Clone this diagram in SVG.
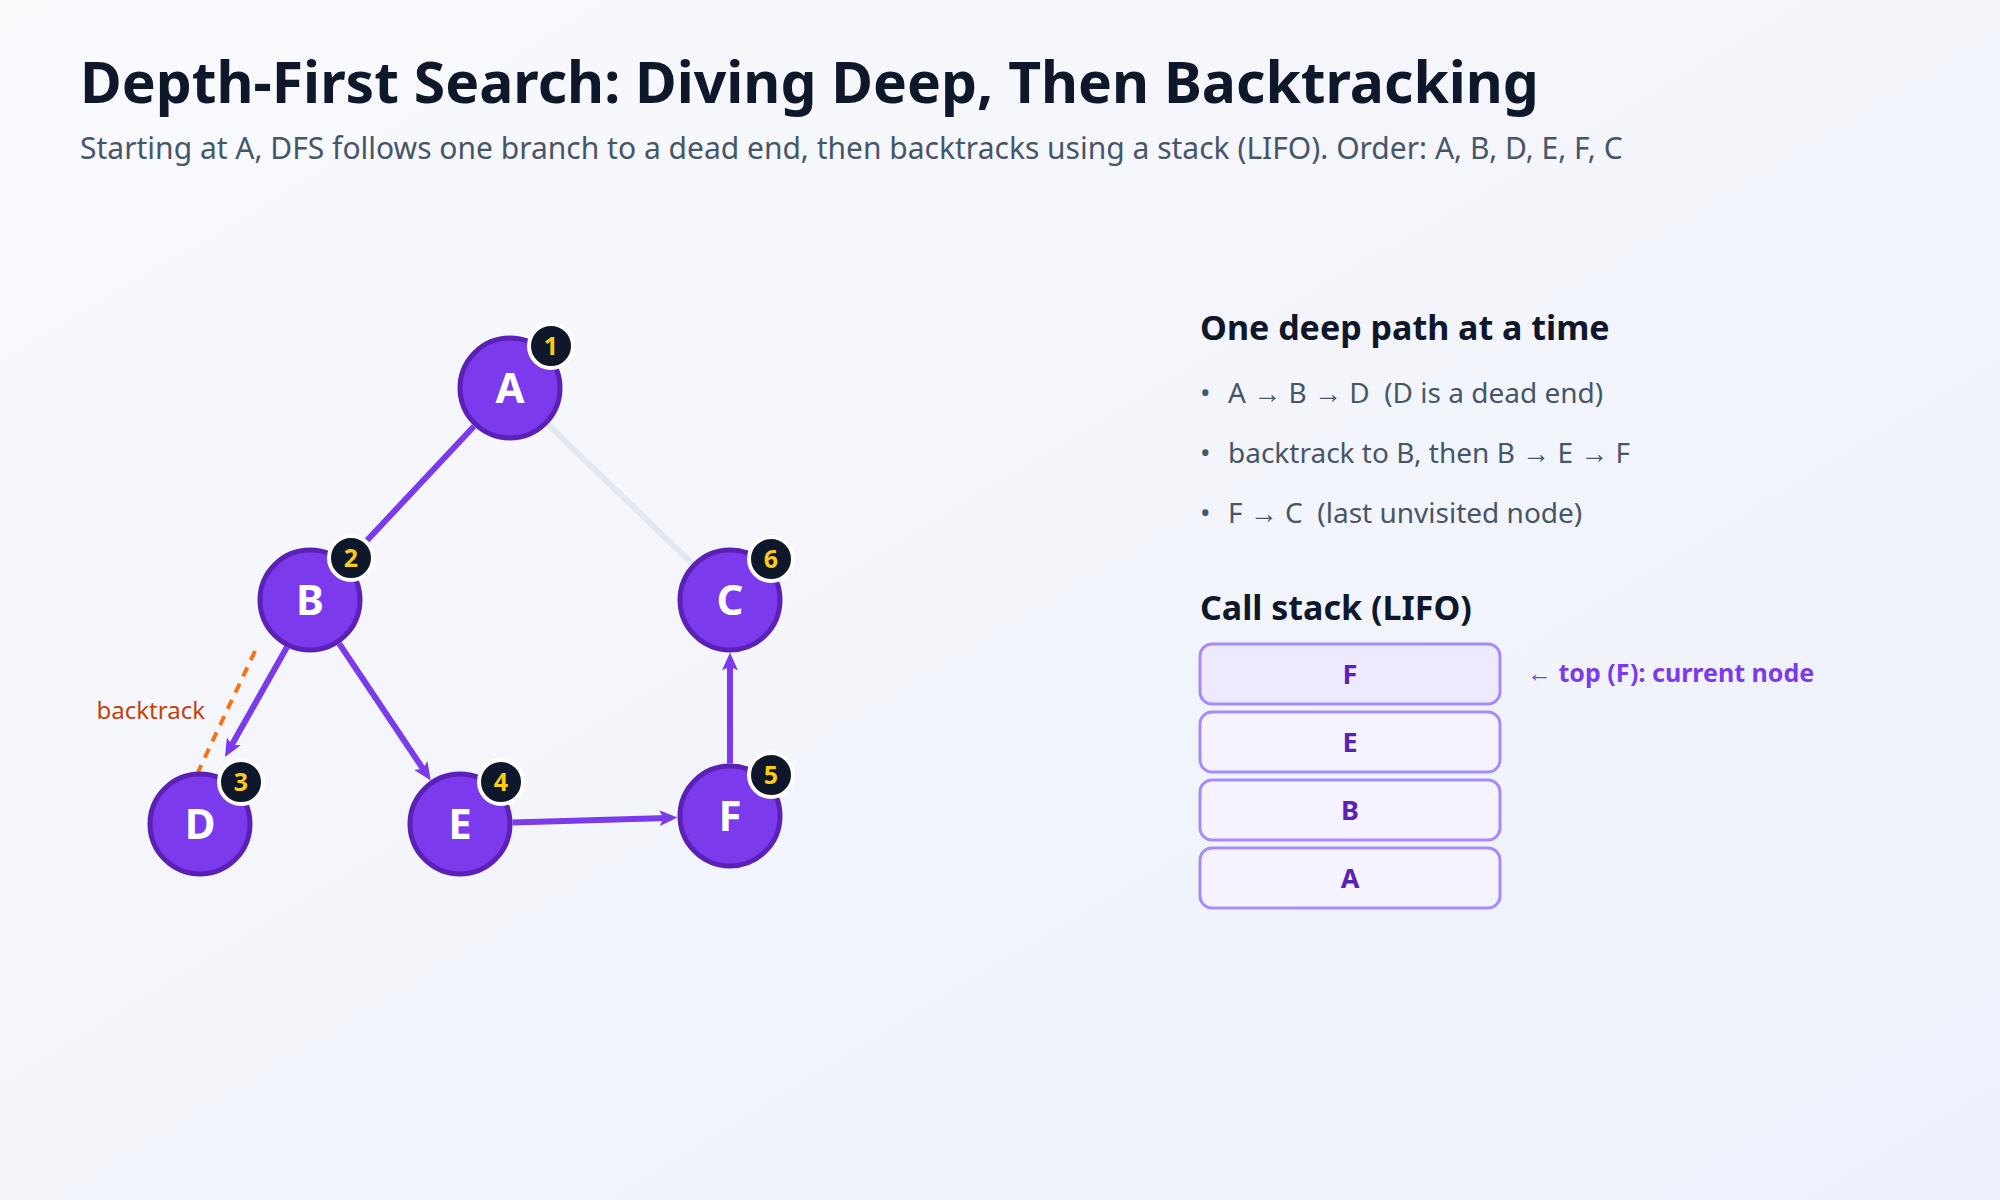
<svg xmlns="http://www.w3.org/2000/svg" width="2000" height="1200" viewBox="0 0 2000 1200">
<defs>
<linearGradient id="bg" x1="0" y1="0" x2="1" y2="1">
<stop offset="0" stop-color="#f8fafc"/>
<stop offset="1" stop-color="#eef0fb"/>
</linearGradient>
<marker id="arr" markerUnits="userSpaceOnUse" markerWidth="20" markerHeight="16" refX="8" refY="8" orient="auto">
<path d="M0,0 L18,8 L0,16 L4,8 Z" fill="#7c3aed"/>
</marker>
<style>
text{font-family:"Noto Sans","Open Sans","Liberation Sans",sans-serif}
.title{font-size:57px;font-weight:700;fill:#0f172a}
.sub{font-size:30px;fill:#475569}
.h{font-size:34px;font-weight:700;fill:#0f172a}
.li{font-size:28px;fill:#475569}
.edge{stroke:#7c3aed;stroke-width:6;fill:none}
.gray{stroke:#e2e8f0;stroke-width:6;fill:none}
.back{stroke:#f97316;stroke-width:4;stroke-dasharray:10 8;fill:none}
.btl{font-size:24px;fill:#c2410c}
.node circle.n{fill:#7c3aed;stroke:#5b21b6;stroke-width:5}
.node text.l{font-size:42px;font-weight:700;fill:#ffffff;text-anchor:middle}
.node circle.b{fill:#0f172a;stroke:#ffffff;stroke-width:4}
.node text.bn{font-size:25px;font-weight:700;fill:#facc15;text-anchor:middle}
.box rect{stroke:#a78bfa;stroke-width:3;fill:#f5f3ff}
.box text{font-size:27px;font-weight:700;fill:#5b21b6;text-anchor:middle}
.top{font-size:25px;font-weight:700;fill:#7c3aed}
</style>
</defs>
<rect width="2000" height="1200" fill="url(#bg)"/>
<text class="title" x="80" y="103">Depth-First Search: Diving Deep, Then Backtracking</text>
<text class="sub" x="80" y="159">Starting at A, DFS follows one branch to a dead end, then backtracks using a stack (LIFO). Order: A, B, D, E, F, C</text>

<g id="connectors">
<line class="gray" x1="547.8" y1="424.4" x2="692.2" y2="563.6"/>
<line class="edge" x1="474" y1="426.2" x2="352.9" y2="555.5" marker-end="url(#arr)"/>
<line class="edge" x1="287" y1="647" x2="229.9" y2="748.3" marker-end="url(#arr)"/>
<line class="edge" x1="339.2" y1="643.6" x2="425.2" y2="772.1" marker-end="url(#arr)"/>
<line class="edge" x1="512.5" y1="822.4" x2="667.5" y2="817.9" marker-end="url(#arr)"/>
<line class="edge" x1="730" y1="763.5" x2="730" y2="662.5" marker-end="url(#arr)"/>
<line class="back" x1="255" y1="651" x2="198" y2="772"/>
<text class="btl" x="205" y="719" text-anchor="end">backtrack</text>
</g>

<g id="node-A" class="node">
<circle class="n" cx="510" cy="388" r="50"/>
<text class="l" x="510" y="403">A</text>
<circle class="b" cx="551" cy="346" r="22"/>
<text class="bn" x="551" y="355">1</text>
</g>
<g id="node-B" class="node">
<circle class="n" cx="310" cy="600" r="50"/>
<text class="l" x="310" y="615">B</text>
<circle class="b" cx="351" cy="558" r="22"/>
<text class="bn" x="351" y="567">2</text>
</g>
<g id="node-C" class="node">
<circle class="n" cx="730" cy="600" r="50"/>
<text class="l" x="730" y="615">C</text>
<circle class="b" cx="771" cy="559" r="22"/>
<text class="bn" x="771" y="568">6</text>
</g>
<g id="node-D" class="node">
<circle class="n" cx="200" cy="824" r="50"/>
<text class="l" x="200" y="839">D</text>
<circle class="b" cx="241" cy="782" r="22"/>
<text class="bn" x="241" y="791">3</text>
</g>
<g id="node-E" class="node">
<circle class="n" cx="460" cy="824" r="50"/>
<text class="l" x="460" y="839">E</text>
<circle class="b" cx="501" cy="782" r="22"/>
<text class="bn" x="501" y="791">4</text>
</g>
<g id="node-F" class="node">
<circle class="n" cx="730" cy="816" r="50"/>
<text class="l" x="730" y="831">F</text>
<circle class="b" cx="771" cy="775" r="22"/>
<text class="bn" x="771" y="784">5</text>
</g>

<g id="panel">
<text class="h" x="1200" y="340">One deep path at a time</text>
<text class="li" x="1200" y="403">•</text>
<text class="li" x="1228" y="403" xml:space="preserve">A → B → D  (D is a dead end)</text>
<text class="li" x="1200" y="463">•</text>
<text class="li" x="1228" y="463" xml:space="preserve">backtrack to B, then B → E → F</text>
<text class="li" x="1200" y="523">•</text>
<text class="li" x="1228" y="523" xml:space="preserve">F → C  (last unvisited node)</text>
<text class="h" x="1200" y="620">Call stack (LIFO)</text>
</g>

<g id="stack-F" class="box">
<rect x="1200" y="644" width="300" height="60" rx="12" style="fill:#ede9fe"/>
<text x="1350" y="684">F</text>
</g>
<g id="stack-E" class="box">
<rect x="1200" y="712" width="300" height="60" rx="12"/>
<text x="1350" y="752">E</text>
</g>
<g id="stack-B" class="box">
<rect x="1200" y="780" width="300" height="60" rx="12"/>
<text x="1350" y="820">B</text>
</g>
<g id="stack-A" class="box">
<rect x="1200" y="848" width="300" height="60" rx="12"/>
<text x="1350" y="888">A</text>
</g>
<text class="top" x="1527" y="682">← top (F): current node</text>
</svg>
